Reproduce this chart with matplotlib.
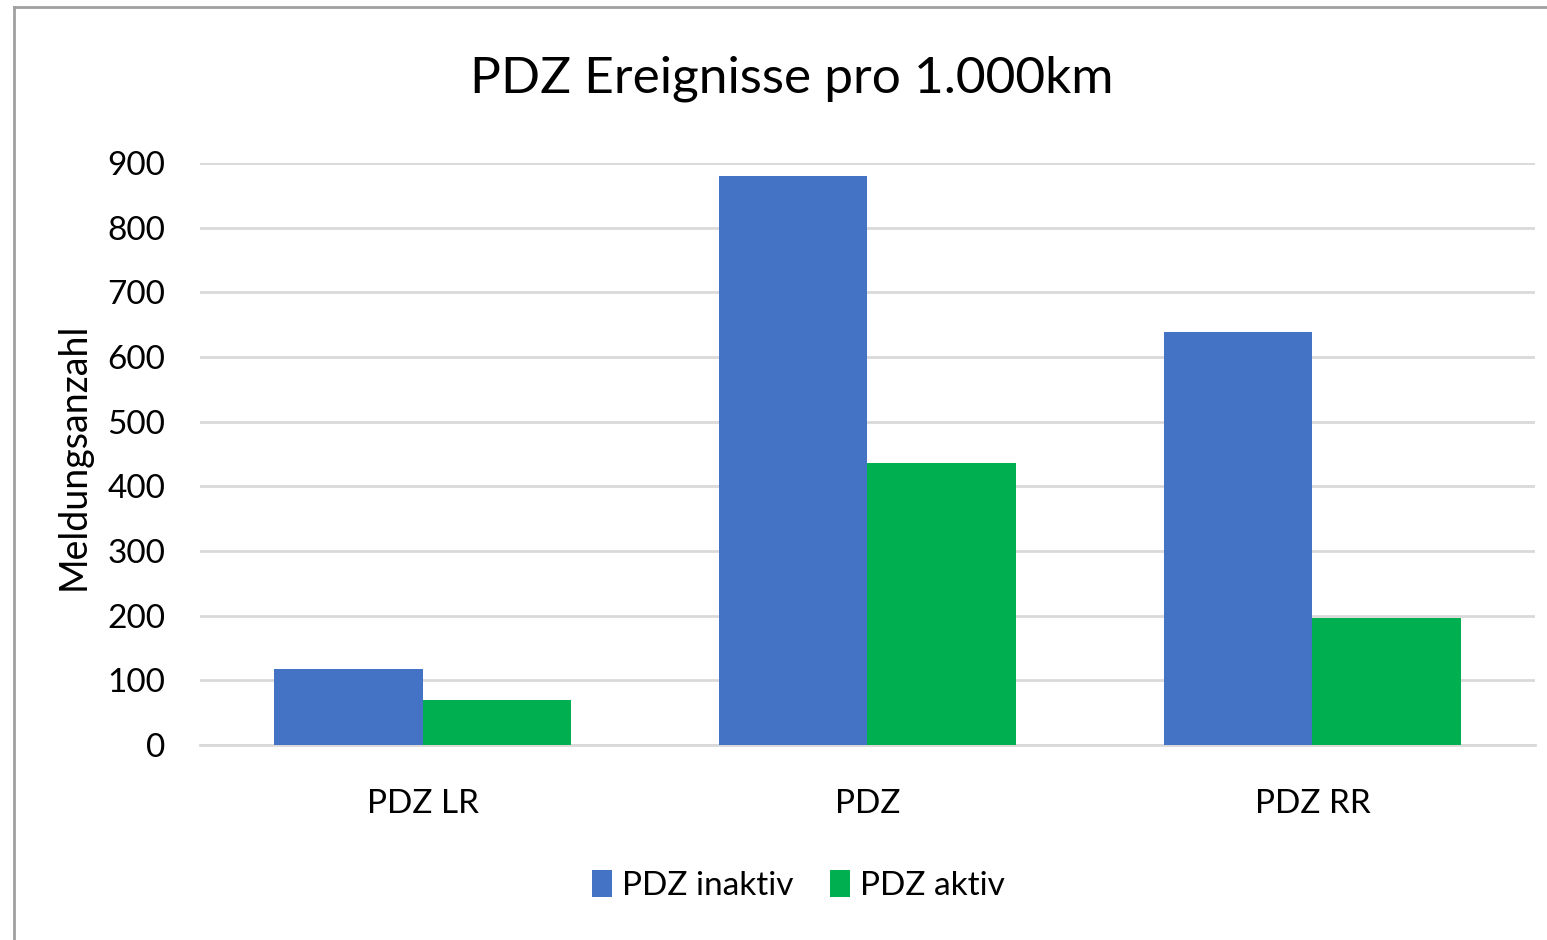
import numpy as np
import matplotlib
matplotlib.use("Agg")
import matplotlib.pyplot as plt

#  Data
categories = ["PDZ LR", "PDZ", "PDZ RR"]
inaktiv = [118, 880, 639]
aktiv = [70, 436, 196]
series_names = ["PDZ inaktiv", "PDZ aktiv"]
yticks = [0, 100, 200, 300, 400, 500, 600, 700, 800, 900]

plt.rcParams['font.family'] = ['Lato', 'DejaVu Sans']

fig = plt.figure(figsize=(15.47, 9.4), dpi=100)
ax = fig.add_axes([0.1293, 0.2074, 0.8629, 0.6192])

x = np.arange(len(categories))
w = 1.0/3
ax.bar(x - w/2, inaktiv, w, color="#4472C4", label=series_names[0], zorder=3)
ax.bar(x + w/2, aktiv, w, color="#00B050", label=series_names[1], zorder=3)

ax.set_xlim(-0.5, 2.5)
ax.set_ylim(0, 900)
ax.set_yticks(yticks)
ax.set_xticks(x)
ax.set_xticklabels(categories)
ax.tick_params(axis="both", length=0, labelsize=24, colors="#000000")
ax.tick_params(axis="y", pad=25)
ax.tick_params(axis="x", pad=32)
ax.grid(axis="y", color="#d9d9d9", linewidth=2, zorder=0)
for s in ["top", "right", "left"]:
    ax.spines[s].set_visible(False)
ax.spines["bottom"].set_color("#d9d9d9")
ax.spines["bottom"].set_linewidth(2)

ax.set_ylabel("Meldungsanzahl", fontsize=27)
ax.yaxis.set_label_coords(-0.081, 0.496)
fig.text(0.512, 0.916, "PDZ Ereignisse pro 1.000km", fontsize=37, ha="center", va="center")

fig.legend(loc="center", bbox_to_anchor=(0.516, 0.058), ncol=2, frameon=False,
           fontsize=24, handlelength=0.6, handleheight=0.9, handletextpad=0.3, columnspacing=1.1)

# outer chart border (left and top only visible)
fig.add_artist(plt.Line2D([0.009, 0.009], [0, 0.9925], color="#a0a0a0", linewidth=2, transform=fig.transFigure))
fig.add_artist(plt.Line2D([0.009, 1.0], [0.9925, 0.9925], color="#a0a0a0", linewidth=2, transform=fig.transFigure))

plt.savefig("out.png", dpi=100)
plt.close()
